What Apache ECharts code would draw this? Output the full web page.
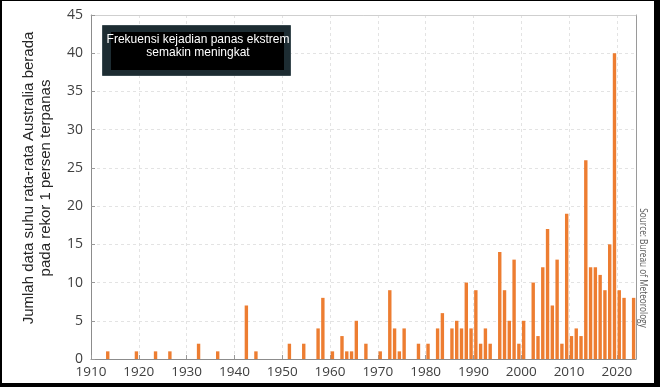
<!DOCTYPE html>
<html>
<head>
<meta charset="utf-8">
<script src="https://cdn.jsdelivr.net/npm/echarts@6/dist/echarts.min.js"></script>
<style>
html,body{margin:0;padding:0;background:#fff;}
#wrap{position:absolute;left:0;top:0;width:660px;height:387px;box-sizing:border-box;border-style:solid;border-color:#000;border-width:1px 6px 4px 2px;}
#chart{position:absolute;left:0;top:0;width:660px;height:387px;}
</style>
</head>
<body>
<div id="chart"></div>
<div id="wrap"></div>
<script>
// Years that have at least one record, and the counts for those years
const years  = [1913,1919,1923,1926,1932,1936,1942,1944,1951,1954,1957,1958,1960,1962,1963,1964,1965,1967,
                1970,1972,1973,1974,1975,1978,1980,1982,1983,1985,1986,1987,1988,1989,1990,1991,1992,1993,
                1995,1996,1997,1998,1999,2000,2002,2003,2004,2005,2006,2007,2008,2009,2010,2011,2012,2013,
                2014,2015,2016,2017,2018,2019,2020,2021,2023];
const counts = [1,1,1,1,2,1,7,1,2,2,4,8,1,3,1,1,5,2,
                1,9,4,1,4,2,2,4,6,4,5,4,10,4,9,2,4,2,
                14,9,5,13,2,5,10,3,12,17,7,13,2,19,3,4,3,26,
                12,12,11,9,15,40,9,8,8];
const firstYear = 1910, lastYear = 2023;
const yTicks = [0,5,10,15,20,25,30,35,40,45];
const boxTitle = ['Frekuensi kejadian panas ekstrem', 'semakin meningkat'];
const yTitle = ['Jumlah data suhu rata-rata Australia berada', 'pada rekor 1 persen terpanas'];
const sourceText = 'Source: Bureau of Meteorology';

const categories = [];
for (let y = firstYear; y <= lastYear; y++) categories.push(String(y));
const barData = categories.map(c => {
  const i = years.indexOf(Number(c));
  return i >= 0 ? counts[i] : null;
});

const chart = echarts.init(document.getElementById('chart'), null, {renderer: 'canvas'});
const labelFont = '"Open Sans", sans-serif';
chart.setOption({
  animation: false,
  grid: {left: 91, right: 24, top: 15, bottom: 28, containLabel: false},
  xAxis: [
    {type: 'category', data: categories, boundaryGap: true, show: false, gridIndex: 0},
    {type: 'value', min: firstYear, max: lastYear + 1, interval: 10, position: 'bottom', gridIndex: 0,
     axisLine: {show: true, lineStyle: {color: '#8c8c8c', width: 1}},
     axisTick: {show: true, inside: true, length: 4, lineStyle: {color: '#999'}},
     axisLabel: {color: '#404040', fontSize: 13.5, fontFamily: labelFont, margin: 6,
                 showMaxLabel: false, formatter: v => String(v)},
     splitLine: {show: true, lineStyle: {color: '#e3e3e3', type: [3, 3]}}},
    {type: 'value', min: firstYear, max: lastYear + 1, position: 'top', gridIndex: 0,
     axisLine: {show: true, lineStyle: {color: '#cfcfcf'}}, axisTick: {show: false},
     axisLabel: {show: false}, splitLine: {show: false}}
  ],
  yAxis: [
    {type: 'value', min: 0, max: 45, interval: 5,
     axisLine: {show: true, lineStyle: {color: '#8c8c8c'}},
     axisTick: {show: true, inside: true, length: 4, lineStyle: {color: '#999'}},
     axisLabel: {color: '#404040', fontSize: 14, fontFamily: labelFont, margin: 8,
                 formatter: v => yTicks.includes(v) ? String(v) : ''},
     splitLine: {show: true, lineStyle: {color: '#e3e3e3', type: [3, 3]}}},
    {type: 'value', min: 0, max: 45, position: 'right',
     axisLine: {show: true, lineStyle: {color: '#9a9a9a'}}, axisTick: {show: false},
     axisLabel: {show: false}, splitLine: {show: false}}
  ],
  series: [{
    type: 'bar', xAxisIndex: 0, yAxisIndex: 0, data: barData,
    barWidth: 3.4,
    itemStyle: {color: '#ED7D31'}
  }],
  graphic: [
    {type: 'rect', left: 102, top: 25, shape: {width: 188, height: 50},
     style: {fill: '#1d2c32', stroke: '#3a4a50', lineWidth: 1}, z: 100},
    {type: 'rect', left: 111, top: 32, shape: {width: 173, height: 38},
     style: {fill: '#000'}, z: 101},
    {type: 'text', x: 198, y: 46, z: 102,
     style: {text: boxTitle.join('\n'), fill: '#fff', font: '12px "Liberation Sans", Arial, sans-serif',
             textAlign: 'center', textVerticalAlign: 'middle', lineHeight: 13}},
    {type: 'text', x: 37, y: 178, rotation: Math.PI / 2, z: 102,
     style: {text: yTitle.join('\n'), fill: '#262626', font: '15px "Liberation Sans", Arial, sans-serif',
             textAlign: 'center', textVerticalAlign: 'middle', lineHeight: 17}},
    {type: 'text', x: 643, y: 268, rotation: -Math.PI / 2, scaleX: 0.75, z: 102,
     style: {text: sourceText, fill: '#595959', font: '11px "Open Sans", sans-serif',
             textAlign: 'center', textVerticalAlign: 'middle'}}
  ]
});
</script>
</body>
</html>
